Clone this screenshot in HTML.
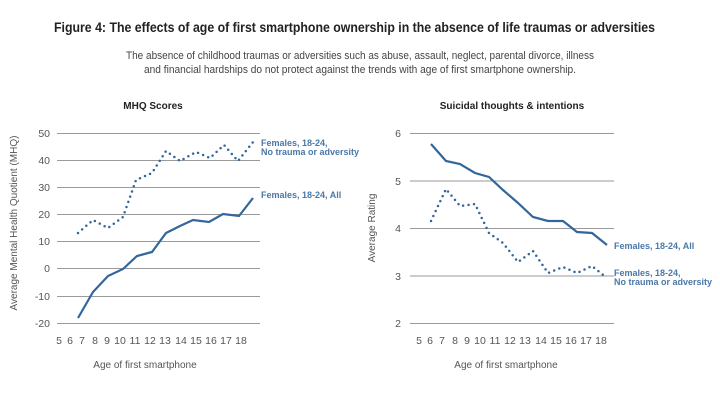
<!DOCTYPE html>
<html><head><meta charset="utf-8"><style>
body{margin:0;background:#fff;}
svg{display:block;font-family:"Liberation Sans",sans-serif;}
</style></head><body>
<svg width="720" height="407" viewBox="0 0 720 407" xmlns="http://www.w3.org/2000/svg">
<rect width="720" height="407" fill="#fff"/>
<text x="54" y="32" font-size="14" font-weight="bold" fill="#222" textLength="601" lengthAdjust="spacingAndGlyphs">Figure 4:  The effects of age of first smartphone ownership in the absence of life traumas or adversities</text>
<text x="360" y="59" font-size="11" fill="#444" text-anchor="middle" textLength="468" lengthAdjust="spacingAndGlyphs">The absence of childhood traumas or adversities such as abuse, assault, neglect, parental divorce, illness</text>
<text x="360" y="73" font-size="11" fill="#444" text-anchor="middle" textLength="432" lengthAdjust="spacingAndGlyphs">and financial hardships do not protect against the trends with age of first smartphone ownership.</text>

<!-- Left chart -->
<text x="153" y="109" font-size="10" font-weight="bold" fill="#222" text-anchor="middle">MHQ Scores</text>
<g stroke="#9a9a9a" stroke-width="1">
<line x1="57" x2="260" y1="133.5" y2="133.5"/><line x1="57" x2="260" y1="160.5" y2="160.5"/><line x1="57" x2="260" y1="187.5" y2="187.5"/><line x1="57" x2="260" y1="214.5" y2="214.5"/><line x1="57" x2="260" y1="241.5" y2="241.5"/><line x1="57" x2="260" y1="268.5" y2="268.5"/><line x1="57" x2="260" y1="296.5" y2="296.5"/><line x1="57" x2="260" y1="323.5" y2="323.5"/>
</g>
<g font-size="10.5" fill="#555" text-anchor="end">
<text x="50" y="137">50</text><text x="50" y="164">40</text><text x="50" y="191">30</text><text x="50" y="218">20</text><text x="50" y="245">10</text><text x="50" y="272">0</text><text x="50" y="300">-10</text><text x="50" y="327">-20</text>
</g>
<g font-size="10.5" fill="#555" text-anchor="middle">
<text x="59" y="344">5</text><text x="70" y="344">6</text><text x="82" y="344">7</text><text x="95" y="344">8</text><text x="107" y="344">9</text><text x="120" y="344">10</text><text x="135" y="344">11</text><text x="150" y="344">12</text><text x="165" y="344">13</text><text x="181" y="344">14</text><text x="196" y="344">15</text><text x="211" y="344">16</text><text x="226" y="344">17</text><text x="241" y="344">18</text>
</g>
<text x="145" y="368" font-size="10" fill="#555" text-anchor="middle">Age of first smartphone</text>
<text transform="translate(17,223) rotate(-90)" font-size="10" fill="#555" text-anchor="middle">Average Mental Health Quotient (MHQ)</text>
<polyline fill="none" stroke="#33669a" stroke-width="2.2" points="78,318 93,292 108,276 123,269 137,256 152,252 166,233 180,226 193,220 209,222 223,214 239,216 253,198"/>
<polyline fill="none" stroke="#33669a" stroke-width="2.5" stroke-dasharray="0 5.5" stroke-linecap="round" points="78,233 93,220 108,228 123,217 136,180 152,173 166,151 180,161 196,152 210,158 224,145 238,161 253,142"/>
<g font-size="9" font-weight="bold" fill="#4a78a8">
<text x="261" y="146">Females, 18-24,</text><text x="261" y="155">No trauma or adversity</text>
<text x="261" y="198">Females, 18-24, All</text>
</g>

<!-- Right chart -->
<text x="512" y="109" font-size="10" font-weight="bold" fill="#222" text-anchor="middle">Suicidal thoughts &amp; intentions</text>
<g stroke="#9a9a9a" stroke-width="1">
<line x1="410" x2="614" y1="133.5" y2="133.5"/><line x1="410" x2="614" y1="181" y2="181"/><line x1="410" x2="614" y1="228.5" y2="228.5"/><line x1="410" x2="614" y1="276" y2="276"/><line x1="410" x2="614" y1="323.5" y2="323.5"/>
</g>
<g font-size="10.5" fill="#555" text-anchor="middle">
<text x="398" y="137">6</text><text x="398" y="185">5</text><text x="398" y="232">4</text><text x="398" y="280">3</text><text x="398" y="327">2</text>
<text x="419" y="344">5</text><text x="430" y="344">6</text><text x="442" y="344">7</text><text x="455" y="344">8</text><text x="467" y="344">9</text><text x="480" y="344">10</text><text x="495" y="344">11</text><text x="510" y="344">12</text><text x="525" y="344">13</text><text x="541" y="344">14</text><text x="556" y="344">15</text><text x="571" y="344">16</text><text x="586" y="344">17</text><text x="601" y="344">18</text>
</g>
<text x="506" y="368" font-size="10" fill="#555" text-anchor="middle">Age of first smartphone</text>
<text transform="translate(375,228) rotate(-90)" font-size="10" fill="#555" text-anchor="middle">Average Rating</text>
<polyline fill="none" stroke="#33669a" stroke-width="2.2" points="431,144 446,161 460,164 475,173 489,177 503,190 518,203 533,217 548,221 563,221 577,232 592,233 607,245"/>
<polyline fill="none" stroke="#33669a" stroke-width="2.5" stroke-dasharray="0 5.5" stroke-linecap="round" points="431,221 446,189 460,206 475,204 489,233 503,243 518,262 533,251 548,273 563,267 577,273 592,266 607,278"/>
<g font-size="9" font-weight="bold" fill="#4a78a8">
<text x="614" y="249">Females, 18-24, All</text>
<text x="614" y="276">Females, 18-24,</text><text x="614" y="285">No trauma or adversity</text>
</g>
</svg>
</body></html>
